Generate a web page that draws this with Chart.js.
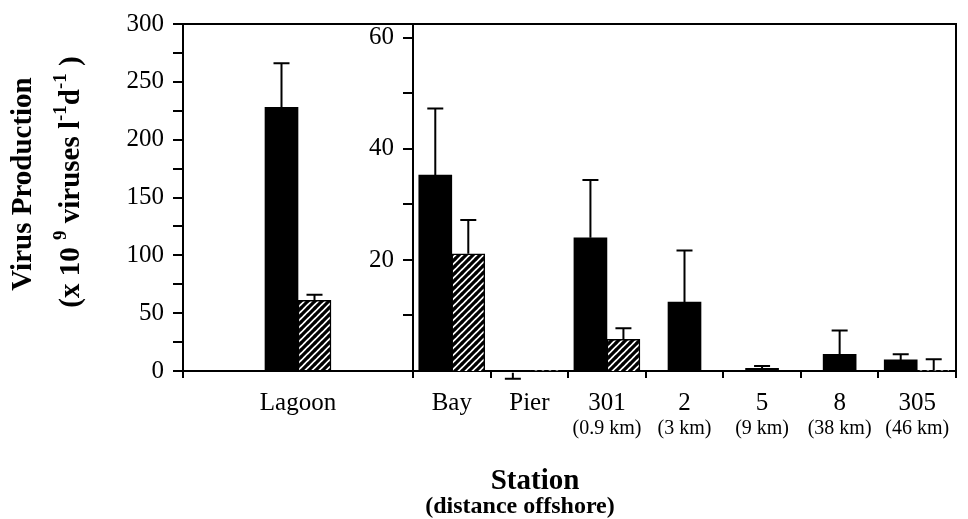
<!DOCTYPE html>
<html>
<head>
<meta charset="utf-8">
<script src="https://cdn.jsdelivr.net/npm/chart.js@4.4.0/dist/chart.umd.min.js"></script>
<style>
  body { margin: 0; background: #fff; }
  #wrap { position: relative; width: 968px; height: 519px; }
  canvas { position: absolute; left: 0; top: 0; }
</style>
</head>
<body>
<div id="wrap">
  <canvas id="leftChart" width="968" height="519"></canvas>
  <canvas id="rightChart" width="968" height="519"></canvas>
</div>
<script>
// left panel (Lagoon, 0-300 scale)
const lagoonLabels = ['Lagoon']
const lagoonSolid = [228]
const lagoonSolidErr = [38]
const lagoonHatched = [61]
const lagoonHatchedErr = [5]
const lagoonTicks = [0, 50, 100, 150, 200, 250, 300]

// right panel (stations, 0-60 scale)
const stationLabels = ['Bay', 'Pier', '301', '2', '5', '8', '305']
const stationDistances = ['', '', '(0.9 km)', '(3 km)', '(9 km)', '(38 km)', '(46 km)']
const stationSolid = [35.3, -0.3, 24.0, 12.4, 0.5, 3.0, 2.0]
const stationSolidErr = [12.0, 1.1, 10.4, 9.3, 0.4, 4.3, 1.0]
const stationHatched = [21.1, 0.1, 5.7, null, null, null, 0.1]
const stationHatchedErr = [6.1, 0, 2.0, null, null, null, 2.0]
const stationTicks = [20, 40, 60]

const serif = "'Liberation Serif', 'Times New Roman', serif"
const tickFont = {family: serif, size: 25}

function makeHatch() {
    const c = document.createElement('canvas')
    c.width = 7; c.height = 7
    const g = c.getContext('2d')
    g.fillStyle = '#fff'
    g.fillRect(0, 0, 7, 7)
    g.strokeStyle = '#000'
    g.lineWidth = 3.2
    g.beginPath()
    g.moveTo(-1, 8); g.lineTo(8, -1)
    g.moveTo(-1, 1); g.lineTo(1, -1)
    g.moveTo(6, 8); g.lineTo(8, 6)
    g.stroke()
    return g.createPattern(c, 'repeat')
}
const hatch = makeHatch()

// error bars, drawn from each dataset's errors array
const errorBars = {
    id: 'errorBars',
    afterDatasetsDraw(chart) {
        const ctx = chart.ctx
        const y = chart.scales.y
        ctx.save()
        ctx.strokeStyle = '#000'
        ctx.lineWidth = 2
        chart.data.datasets.forEach((ds, di) => {
            const meta = chart.getDatasetMeta(di)
            meta.data.forEach((bar, i) => {
                const v = ds.data[i]
                const e = ds.errors[i]
                if (v == null || !e) return
                const dir = v < 0 ? -1 : 1
                const y0 = y.getPixelForValue(v)
                const y1 = y.getPixelForValue(v + dir * e)
                ctx.beginPath()
                ctx.moveTo(bar.x, y0); ctx.lineTo(bar.x, y1)
                ctx.moveTo(bar.x - 8, y1); ctx.lineTo(bar.x + 8, y1)
                ctx.stroke()
            })
        })
        ctx.restore()
    }
}

// top and right edges of the plot box
const frame = {
    id: 'frame',
    afterDraw(chart) {
        const {ctx, chartArea: a} = chart
        ctx.save()
        ctx.strokeStyle = '#000'
        ctx.lineWidth = 2
        ctx.beginPath()
        ctx.moveTo(a.left, a.top)
        ctx.lineTo(a.right, a.top)
        ctx.lineTo(a.right, a.bottom)
        ctx.stroke()
        ctx.restore()
    }
}

// axis titles (y title has superscripts)
const titles = {
    id: 'titles',
    afterDraw(chart) {
        const ctx = chart.ctx
        ctx.save()
        ctx.fillStyle = '#000'
        ctx.textAlign = 'center'
        ctx.textBaseline = 'middle'
        ctx.font = 'bold 29px ' + serif
        ctx.fillText('Station', 535, 482)
        ctx.font = 'bold 24px ' + serif
        ctx.fillText('(distance offshore)', 520, 507)

        ctx.translate(24, 184)
        ctx.rotate(-Math.PI / 2)
        ctx.font = 'bold 29px ' + serif
        ctx.fillText('Virus Production', 0, 0)

        const parts = [['(x 10 ', 0], ['9', 1], [' viruses l', 0], ['-1', 1], ['d', 0], ['-1', 1], [' )', 0]]
        const fonts = ['bold 29px ' + serif, 'bold 19px ' + serif]
        let total = 0
        for (const [t, s] of parts) { ctx.font = fonts[s]; total += ctx.measureText(t).width }
        let x = -total / 2
        ctx.textAlign = 'left'
        ctx.translate(2, 48)
        for (const [t, s] of parts) {
            ctx.font = fonts[s]
            ctx.fillText(t, x, s ? -11 : 0)
            x += ctx.measureText(t).width
        }
        ctx.restore()
    }
}

// second line of the station labels (distance offshore)
const distanceLabels = {
    id: 'distanceLabels',
    afterDraw(chart) {
        const ctx = chart.ctx
        const xs = chart.scales.x
        ctx.save()
        ctx.fillStyle = '#000'
        ctx.textAlign = 'center'
        ctx.textBaseline = 'middle'
        ctx.font = '20px ' + serif
        stationDistances.forEach((d, i) => {
            if (d) ctx.fillText(d, xs.getPixelForValue(i), 429)
        })
        ctx.restore()
    }
}

function axisStyle(extra) {
    return Object.assign({
        border: {display: true, color: '#000', width: 2},
        grid: {display: true, drawOnChartArea: false, color: '#000', lineWidth: 2, tickLength: 10}
    }, extra)
}

const xTicks = {color: '#000', font: tickFont, autoSkip: false, maxRotation: 0, padding: 10}
const xGrid = {display: true, drawOnChartArea: false, color: '#000', lineWidth: 2, tickLength: 7}

Chart.defaults.animation = false

new Chart(document.querySelector('#leftChart').getContext('2d'), {
    type: 'bar',
    data: {
        labels: lagoonLabels,
        datasets: [
            {data: lagoonSolid, errors: lagoonSolidErr, backgroundColor: '#000', borderColor: '#000', borderWidth: 0, barThickness: 33},
            {data: lagoonHatched, errors: lagoonHatchedErr, backgroundColor: hatch, borderColor: '#000', borderWidth: 1.5, barThickness: 33}
        ]
    },
    options: {
        responsive: false,
        layout: {padding: {top: 21, right: 555, bottom: 0, left: 0}},
        plugins: {legend: {display: false}, tooltip: {enabled: false}},
        scales: {
            x: axisStyle({
                grid: xGrid,
                ticks: xTicks,
                afterFit: s => { s.height = 148 }
            }),
            y: axisStyle({
                min: 0, max: 300,
                ticks: {
                    color: '#000', font: tickFont, autoSkip: false, padding: 9, stepSize: 25,
                    callback: v => lagoonTicks.includes(v) ? v : ''
                },
                afterFit: s => { s.width = 183 }
            })
        }
    },
    plugins: [errorBars, frame, titles]
})

new Chart(document.querySelector('#rightChart').getContext('2d'), {
    type: 'bar',
    data: {
        labels: stationLabels,
        datasets: [
            {data: stationSolid, errors: stationSolidErr, backgroundColor: '#000', borderColor: '#000', borderWidth: 0, barThickness: 33, skipNull: true},
            {data: stationHatched, errors: stationHatchedErr, backgroundColor: hatch, borderColor: '#000', borderWidth: 1.5, barThickness: 33, skipNull: true}
        ]
    },
    options: {
        responsive: false,
        layout: {padding: {top: 21, right: 12, bottom: 0, left: 0}},
        plugins: {legend: {display: false}, tooltip: {enabled: false}},
        scales: {
            x: axisStyle({
                grid: xGrid,
                ticks: xTicks,
                afterFit: s => { s.height = 148 }
            }),
            y: axisStyle({
                min: 0, max: 62.5,
                ticks: {
                    color: '#000', font: tickFont, autoSkip: false, padding: 9, stepSize: 10, includeBounds: false,
                    callback: v => stationTicks.includes(v) ? v : ''
                },
                afterBuildTicks: s => { s.ticks = s.ticks.filter(t => t.value > 0 && t.value <= 60) },
                afterFit: s => { s.width = 413 }
            })
        }
    },
    plugins: [errorBars, frame, distanceLabels]
})
</script>
</body>
</html>
